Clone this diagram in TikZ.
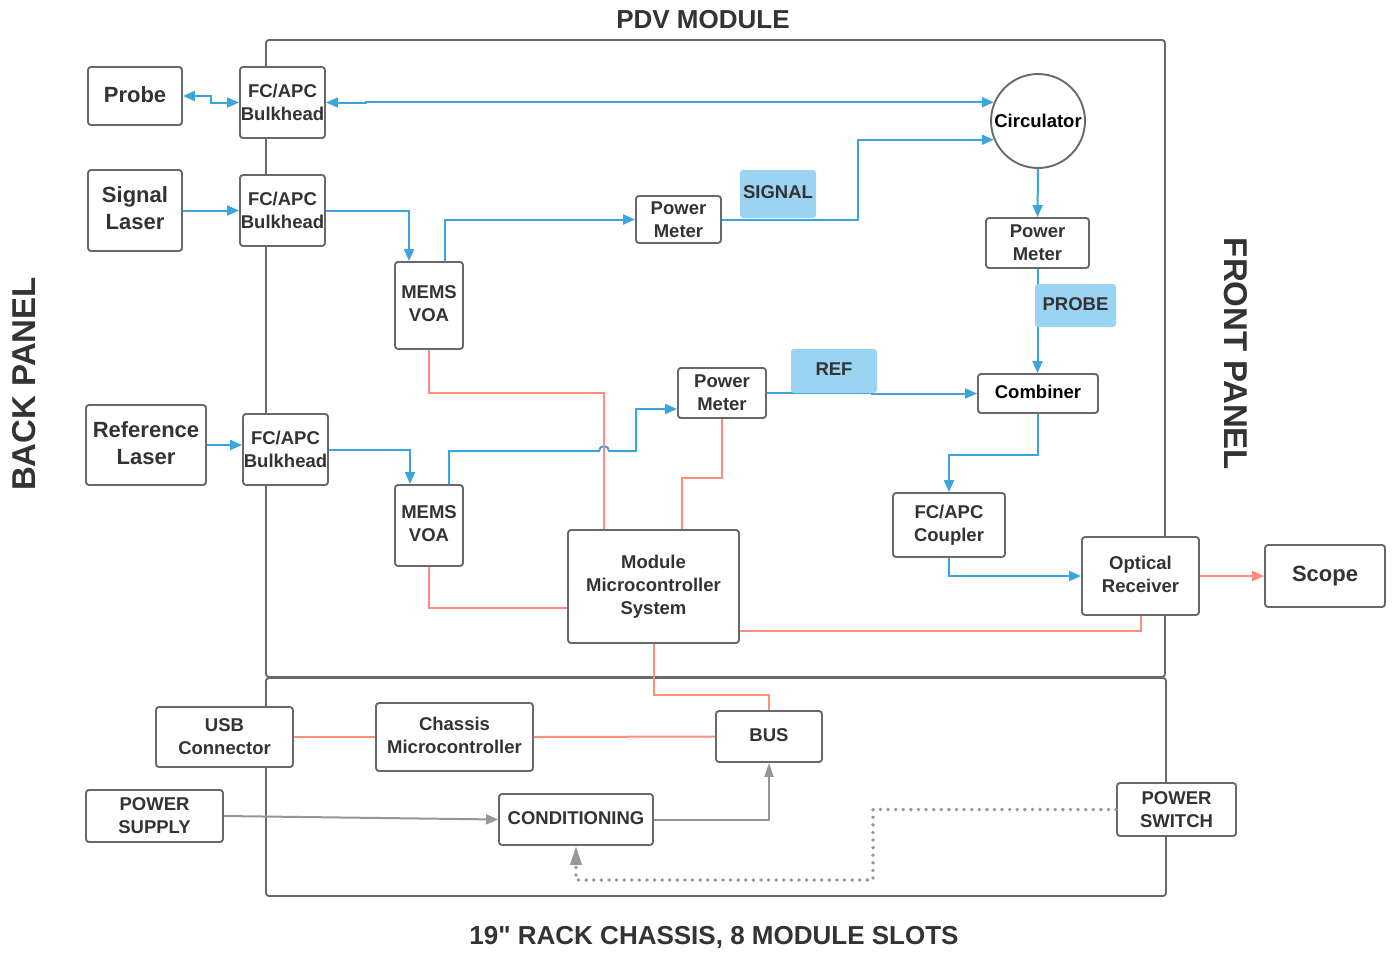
\documentclass[tikz,border=0pt]{standalone}
\usepackage{fontspec}
\setmainfont{Liberation Sans}[Ligatures=TeXOff]
\usetikzlibrary{arrows.meta}
\definecolor{cblue}{RGB}{58,166,221}
\definecolor{cred}{RGB}{255,140,125}
\definecolor{cgray}{RGB}{150,150,150}
\definecolor{boxc}{RGB}{105,105,105}
\definecolor{lblc}{RGB}{155,211,242}
\definecolor{txt}{RGB}{51,51,51}
\begin{document}
\begin{tikzpicture}[x=1pt,y=-1pt,
  tri/.tip={Triangle[length=12pt,width=10pt]},
  box/.style={draw=boxc, line width=1.9pt, rounded corners=3pt, fill=white, align=center,
    inner sep=0pt, text=txt, font=\bfseries\fontsize{18.5}{23}\selectfont},
  bigbox/.style={box, font=\bfseries\fontsize{22}{27}\selectfont},
  lbl/.style={fill=lblc, rounded corners=3pt, inner sep=0pt, text=txt,
    font=\bfseries\fontsize{18.5}{23}\selectfont},
  frame/.style={draw=boxc, line width=1.9pt, rounded corners=3pt},
  title/.style={text=txt, font=\bfseries\fontsize{26}{30}\selectfont},
  side/.style={text=txt, font=\bfseries\fontsize{33}{38}\selectfont},
  bl/.style={draw=cblue, line width=2pt},
  rd/.style={draw=cred, line width=2pt},
  gr/.style={draw=cgray, line width=2pt},
  dotline/.style={draw=cgray, line width=3.8pt, line cap=round, dash pattern=on 0pt off 7.6pt},
]
\useasboundingbox (0,0) rectangle (1392,953);

% frames
\draw[frame] (266,40) rectangle (1165,677);
\draw[frame] (266,678) rectangle (1166,896);

% titles
\node[title] (tpdv) at (703,20) {PDV MODULE};
\node[title] (track) at (714,937) {19" RACK CHASSIS, 8 MODULE SLOTS};
\node[side, rotate=90] (tback) at (24,384) {BACK PANEL};
\node[side, rotate=-90] (tfront) at (1236,354) {FRONT PANEL};

% nodes
\node[bigbox, minimum width=94pt, minimum height=58pt] (probe) at (135,96) {Probe\rule[-3pt]{0pt}{3pt}};
\node[box, minimum width=85pt, minimum height=71pt] (bh1) at (282.5,102.5) {FC/APC\\Bulkhead};
\node[bigbox, minimum width=94pt, minimum height=81pt] (siglaser) at (135,210.5) {Signal\\Laser\rule[-4pt]{0pt}{4pt}};
\node[box, minimum width=85pt, minimum height=71pt] (bh2) at (282.5,210.5) {FC/APC\\Bulkhead};
\node[bigbox, minimum width=120pt, minimum height=80pt] (reflaser) at (146,445) {Reference\\Laser\rule[-4pt]{0pt}{4pt}};
\node[box, minimum width=85pt, minimum height=71pt] (bh3) at (285.5,449.5) {FC/APC\\Bulkhead};
\node[circle, draw=boxc, line width=1.9pt, fill=white, minimum size=94pt, inner sep=0pt,
  text=black, font=\bfseries\fontsize{18.5}{23}\selectfont] (circ) at (1038,121) {Circulator};
\node[box, minimum width=85pt, minimum height=47pt] (pm1) at (678.5,219.5) {Power\\Meter};
\node[box, minimum width=68pt, minimum height=87pt] (voa1) at (429,305.5) {MEMS\\VOA\rule[-4pt]{0pt}{4pt}};
\node[box, minimum width=103pt, minimum height=50pt] (pm2) at (1037.5,243) {Power\\Meter};
\node[box, minimum width=88pt, minimum height=50pt] (pm3) at (722,393) {Power\\Meter};
\node[box, minimum width=120pt, minimum height=39pt, text=black] (comb) at (1038,393.5) {Combiner\rule[-3pt]{0pt}{3pt}};
\node[box, minimum width=68pt, minimum height=81pt] (voa2) at (429,525.5) {MEMS\\VOA\rule[-4pt]{0pt}{4pt}};
\node[box, minimum width=171pt, minimum height=113pt] (mcu) at (653.5,586.5) {Module\\Microcontroller\\System};
\node[box, minimum width=112pt, minimum height=64pt] (coup) at (949,525) {FC/APC\\Coupler};
\node[box, minimum width=117pt, minimum height=78pt] (orx) at (1140.5,576) {Optical\\Receiver\rule[-4pt]{0pt}{4pt}};
\node[bigbox, minimum width=120pt, minimum height=62pt] (scope) at (1325,576) {Scope};
\node[box, minimum width=137pt, minimum height=60pt] (usb) at (224.5,737) {USB\\Connector};
\node[box, minimum width=157pt, minimum height=68pt] (chas) at (454.5,737) {Chassis\\Microcontroller\rule[-3pt]{0pt}{3pt}};
\node[box, minimum width=106pt, minimum height=51pt] (bus) at (769,736.5) {BUS\rule[-3pt]{0pt}{3pt}};
\node[box, minimum width=137pt, minimum height=52pt] (psup) at (154.5,816) {POWER\\SUPPLY};
\node[box, minimum width=154pt, minimum height=51pt] (cond) at (576,819.5) {CONDITIONING\rule[-3pt]{0pt}{3pt}};
\node[box, minimum width=119pt, minimum height=53pt] (psw) at (1176.5,809.5) {POWER\\SWITCH};

% blue optical connectors
\draw[bl, tri-tri] (probe.east) -- ++(28,0) |- (bh1.west);
\draw[bl, tri-tri] (bh1.east) -- ++(40,0) |- (circ.157);
\draw[bl, -tri] (siglaser.east) -- (bh2.west);
\draw[bl, -tri] (bh2.east) -| ([xshift=-20pt]voa1.north);
\draw[bl, -tri] ([xshift=16pt]voa1.north) |- (pm1.west);
\draw[bl, -tri] (pm1.east) -- ++(136,0) |- (circ.203);
\draw[bl, -tri] (circ.south) -- (pm2.north);
\draw[bl, -tri] (pm2.south) -- (pm2.south |- comb.north);
\draw[bl, -tri] (pm3.east) -- ++(105,0) |- (comb.west);
\draw[bl, -tri] (reflaser.east) -- (reflaser.east -| bh3.west);
\draw[bl, -tri] (bh3.east) -| ([xshift=-19pt]voa2.north);
\coordinate (bumpa) at (599,451);
\coordinate (kink) at (636,451);
\draw[bl, -tri] ([xshift=20pt]voa2.north) |- (bumpa) arc[start angle=180, end angle=360, radius=5] -- (kink) |- ([yshift=-16pt]pm3.west);
\draw[bl, -tri] (comb.south) -- ++(0,41) -| (coup.north);
\draw[bl, -tri] (coup.south) |- (orx.west);

% red electrical connectors
\draw[rd, -tri] (orx.east) -- (scope.west);
\draw[rd] (voa1.south) -- ++(0,43) -| ([xshift=-49.5pt]mcu.north);
\draw[rd] (pm3.south) -- ++(0,59) -| ([xshift=28.5pt]mcu.north);
\draw[rd] (voa2.south) |- ([yshift=-21.5pt]mcu.west);
\draw[rd] ([yshift=-44.5pt]mcu.east) -| (orx.south);
\draw[rd] (mcu.south) -- ++(0,51) -| (bus.north);
\draw[rd] (usb.east) -- (chas.west);
\draw[rd] (chas.east) -- (bus.west);

% gray power connectors
\draw[gr, -tri] (psup.east) -- (cond.west);
\draw[gr, -{Triangle[length=14pt,width=9pt]}] (cond.east) -| (bus.south);
\coordinate (dd1) at (873,809.5);
\coordinate (dd2) at (873,880);
\draw[dotline, -{Triangle[length=19pt,width=11pt]}] (psw.west) -- (dd1) -- (dd2) -| (cond.south);

% labels
\node[lbl, minimum width=76pt, minimum height=48pt] (lsig) at (778,194) {SIGNAL\rule[-3pt]{0pt}{3pt}};
\node[lbl, minimum width=81pt, minimum height=43pt] (lprobe) at (1075.5,305.5) {PROBE\rule[-3pt]{0pt}{3pt}};
\node[lbl, minimum width=86pt, minimum height=44pt] (lref) at (834,371) {REF\rule[-3pt]{0pt}{3pt}};
\end{tikzpicture}
\end{document}
